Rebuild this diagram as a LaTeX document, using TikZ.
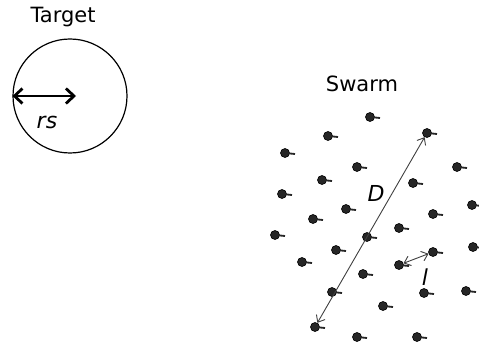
\documentclass[tikz,border=0pt]{standalone}
\usepackage{fontspec}
\setsansfont{DejaVu Sans}
\usetikzlibrary{arrows.meta}
\begin{document}
\begin{tikzpicture}[x=1pt,y=-1pt,
  agent/.style={circle,fill=black!85,draw=black,line width=0.6pt,inner sep=0pt,minimum size=9pt},
  heading/.style={black!85,line width=1.8pt},
  title/.style={font=\sffamily\fontsize{21}{24}\selectfont},
  sym/.style={font=\sffamily\itshape\fontsize{22}{25}\selectfont},
  measure/.style={black!75,line width=0.9pt,{Straight Barb[length=6pt,width=10pt]}-{Straight Barb[length=6pt,width=10pt]}}]
\useasboundingbox (0,0) rectangle (479,342);

% target area
\node[title] (tlabel) at (63,17) {Target};
\node[circle,draw,line width=1.2pt,minimum size=114pt,inner sep=0pt] (target) at (70,96) {};
\coordinate (rsend) at (76,96);
\draw[line width=2.8pt,{Straight Barb[length=8pt,width=15pt]}-{Straight Barb[length=8pt,width=15pt]}]
  (target.west) -- (rsend);
\node[sym] (rs) at (47,122) {rs};

% swarm
\node[title] (slabel) at (362,84) {Swarm};
\foreach \n/\x/\y in {
  a1/370/117, a2/328/136, a3/427/133, a4/285/153, a5/357/167, a6/457/167,
  a7/322/180, a8/413/183, a9/282/194, a10/346/209, a11/472/205, a12/433/214,
  a13/313/219, a14/399/228, a15/275/235, a16/367/237, a17/336/250, a18/473/247,
  a19/433/252, a20/302/262, a21/399/265, a22/363/274, a23/332/292, a24/424/293,
  a25/466/291, a26/383/306, a27/315/327, a28/357/337, a29/417/337}
{
  \node[agent] (\n) at (\x,\y) {};
  \draw[heading] (\n.center) -- ++(10,1);
}

% swarm diameter and spacing
\draw[measure] (a27) -- (a3);
\node[sym] (D) at (376,193) {D};
\draw[measure] (a21) -- (a19);
\node[sym] (l) at (425,277) {l};
\end{tikzpicture}
\end{document}
